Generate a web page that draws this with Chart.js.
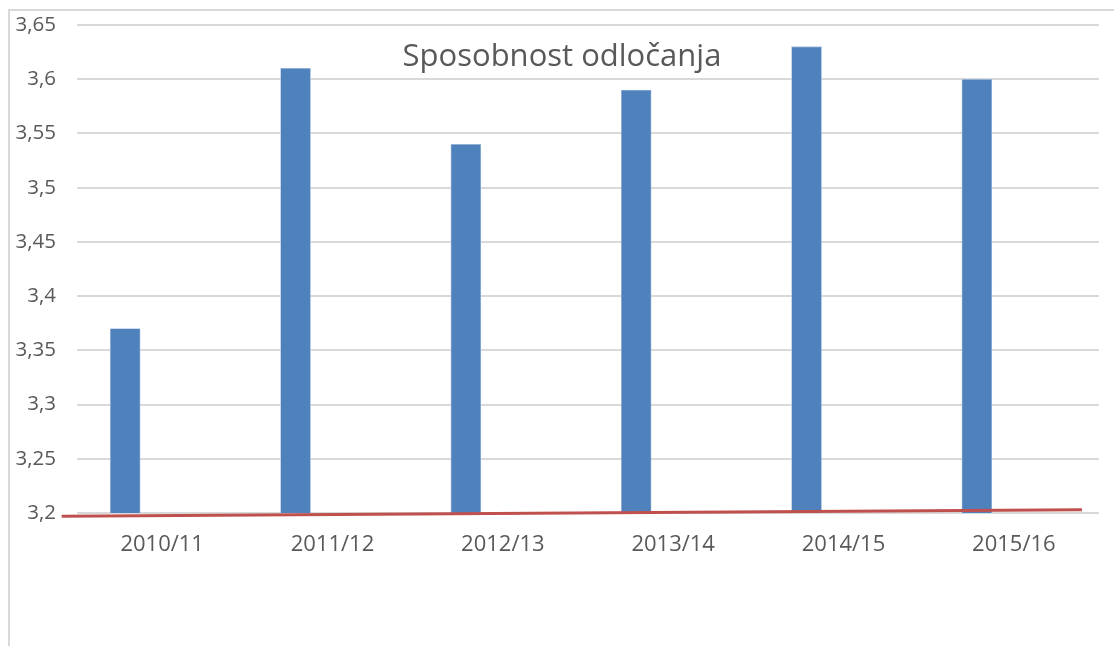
<!DOCTYPE html>
<html>
<head>
<meta charset="utf-8">
<script src="https://cdn.jsdelivr.net/npm/chart.js@4.4.1/dist/chart.umd.min.js"></script>
<style>
  html, body { margin: 0; padding: 0; background: #ffffff; }
  #wrap { width: 1114px; height: 646px; position: relative; }
</style>
</head>
<body>
<div id="wrap"><canvas id="c"></canvas></div>
<script>
const chartTitle = 'Sposobnost odločanja';
const categories = ['2010/11', '2011/12', '2012/13', '2013/14', '2014/15', '2015/16'];
const scoreValues = [3.37, 3.61, 3.54, 3.59, 3.63, 3.60];
// trend line end points (category index, value)
const trendX = [-0.59, 5.40];
const trendY = [3.197, 3.203];
const yMin = 3.2, yMax = 3.65, yStep = 0.05;

// bars sit in the left slot of a two-slot group (second series empty)
const barSlotShift = -0.217;

const textColor = '#595959';
const fontFamily = '"Open Sans", "Noto Sans", sans-serif';

const framePlugin = {
  id: 'frame',
  beforeDraw(chart) {
    const ctx = chart.ctx;
    ctx.save();
    ctx.fillStyle = '#ffffff';
    ctx.fillRect(0, 0, chart.width, chart.height);
    ctx.strokeStyle = '#d9d9d9';
    ctx.lineWidth = 2;
    ctx.beginPath();
    ctx.moveTo(9, chart.height);
    ctx.lineTo(9, 10);
    ctx.lineTo(chart.width, 10);
    ctx.stroke();
    ctx.restore();
  }
};

const titlePlugin = {
  id: 'innerTitle',
  afterDraw(chart) {
    const ctx = chart.ctx;
    ctx.save();
    ctx.font = '31px ' + fontFamily;
    ctx.fillStyle = textColor;
    ctx.textAlign = 'center';
    ctx.textBaseline = 'alphabetic';
    ctx.fillText(chartTitle, 562, 66);
    ctx.restore();
  }
};

new Chart(document.getElementById('c'), {
  type: 'line',
  data: {
    labels: categories,
    datasets: [
      {
        type: 'line',
        data: trendX.map((x, i) => ({ x: x, y: trendY[i] })),
        xAxisID: 'x2',
        borderColor: '#C0504D',
        borderWidth: 3,
        pointRadius: 0,
        fill: false,
        clip: false,
        order: 0
      },
      {
        type: 'bar',
        data: scoreValues.map((v, i) => ({ x: i + barSlotShift, y: v })),
        xAxisID: 'x2',
        backgroundColor: '#4F81BD',
        borderColor: '#a9c1df',
        borderWidth: 0.8,
        barThickness: 30,
        grouped: false,
        order: 1
      }
    ]
  },
  plugins: [framePlugin, titlePlugin],
  options: {
    responsive: true,
    maintainAspectRatio: false,
    animation: false,
    layout: { padding: { top: 25, right: 15, bottom: 0, left: 0 } },
    plugins: { legend: { display: false }, tooltip: { enabled: false }, title: { display: false } },
    scales: {
      x: {
        type: 'category',
        labels: categories,
        offset: true,
        grid: { display: false, drawTicks: false },
        border: { display: false },
        ticks: { color: textColor, font: { family: fontFamily, size: 22 }, padding: 19, maxRotation: 0 },
        afterFit(scale) { scale.height = 133; }
      },
      x2: {
        type: 'linear',
        display: false,
        offset: false,
        min: -0.5,
        max: 5.5
      },
      y: {
        min: yMin,
        max: yMax,
        grid: { color: '#d9d9d9', lineWidth: 2, drawTicks: false },
        border: { display: false },
        ticks: {
          stepSize: yStep,
          color: textColor,
          padding: 21,
          font: { family: fontFamily, size: 20.5 },
          callback: (v) => String(parseFloat(v.toFixed(2))).replace('.', ',')
        },
        afterFit(scale) {
          scale.width = 77;
          scale.paddingTop = 0;
          scale.paddingBottom = 0;
        }
      }
    }
  }
});
</script>
</body>
</html>
